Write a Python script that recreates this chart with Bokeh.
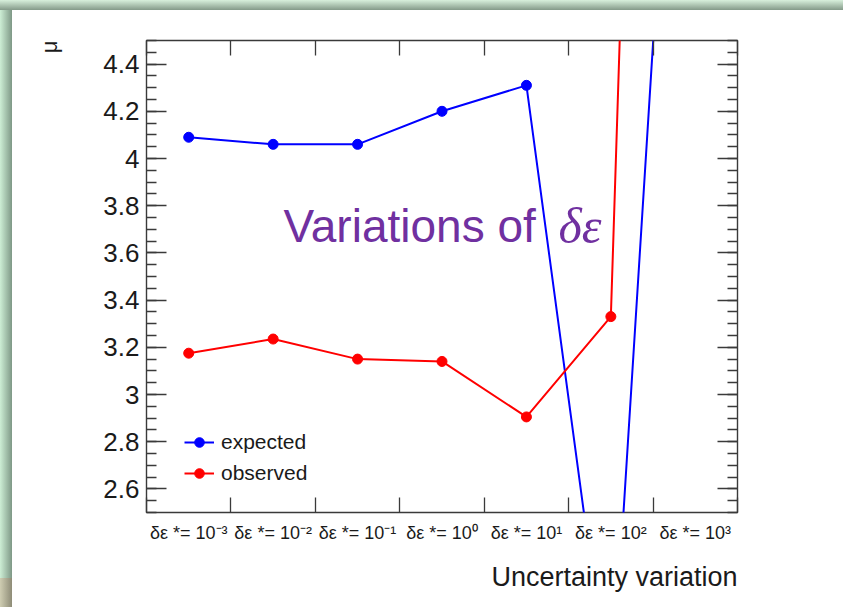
from bokeh.plotting import figure
from bokeh.models import (FixedTicker, NumeralTickFormatter, LinearAxis, Range1d, Label,
                          ColumnDataSource, Legend, LegendItem, Title)
from bokeh.embed import file_html
from bokeh.resources import INLINE

# Scan of the δε scaling factor, one bin per power of ten
tick_labels = ["δε *= 10⁻³", "δε *= 10⁻²", "δε *= 10⁻¹", "δε *= 10⁰",
               "δε *= 10¹", "δε *= 10²", "δε *= 10³"]
# Fitted signal strength mu for each scaling
expected = [4.09, 4.06, 4.06, 4.20, 4.31, 1.65, 7.33]
observed = [3.175, 3.235, 3.15, 3.14, 2.905, 3.33, 14.5]
# Axis ticks
y_ticks = [2.6, 2.8, 3.0, 3.2, 3.4, 3.6, 3.8, 4.0, 4.2, 4.4]
y_minor = [round(2.5 + 0.05 * i, 2) for i in range(41)]
x_edges = [0, 1, 2, 3, 4, 5, 6, 7]

W, H = 843, 607
L, R, T, B = 145, 106, 40, 95
AX = "#3a3a3a"
TXT = "#1a1a1a"
SANS = "Liberation Sans"
PURPLE = "#7030a0"

x = [i + 0.5 for i in range(len(tick_labels))]

p = figure(width=W, height=H, output_backend="svg", toolbar_location=None,
           x_range=Range1d(0, 7), y_range=Range1d(2.5, 4.5),
           min_border_left=L, min_border_right=R, min_border_top=T, min_border_bottom=B,
           x_axis_location=None, y_axis_location=None)
p.grid.visible = False
p.background_fill_color = "white"
p.border_fill_color = None
p.outline_line_color = AX
p.outline_line_width = 1.4
# slide frame: shaded strips along the top and left edges of the page
p.styles = {
    "background": (
        "linear-gradient(to bottom, #d8f0dc 0px, #849a89 10px, rgba(0,0,0,0) 10px), "
        "linear-gradient(to right, #cfcdb2 0px, #8e8c77 12px, rgba(0,0,0,0) 12px) 0 578px / 100% 29px no-repeat, "
        "linear-gradient(to right, #cdeed5 0px, #7e9886 12px, rgba(0,0,0,0) 12px), "
        "white"
    )
}


def tick_style(ax, major, minor):
    ax.axis_line_color = None
    ax.major_tick_in = major
    ax.major_tick_out = 0
    ax.minor_tick_in = minor
    ax.minor_tick_out = 0
    ax.major_tick_line_color = AX
    ax.minor_tick_line_color = AX
    ax.major_tick_line_width = 1.3
    ax.minor_tick_line_width = 1.3


# y axes: labelled on the left, mirrored ticks on the right
left = LinearAxis(ticker=FixedTicker(ticks=y_ticks, minor_ticks=y_minor),
                  formatter=NumeralTickFormatter(format="0.[0]"))
tick_style(left, 20, 10)
left.major_label_text_font = SANS
left.major_label_text_font_size = "26px"
left.major_label_text_color = TXT
left.major_label_standoff = 7
p.add_layout(left, "left")

right = LinearAxis(ticker=FixedTicker(ticks=y_ticks, minor_ticks=y_minor))
tick_style(right, 20, 10)
right.major_label_text_color = None
p.add_layout(right, "right")

# x axes: bin edges as (unlabelled) minor ticks, bin centres carry the labels
below = LinearAxis(ticker=FixedTicker(ticks=x, minor_ticks=x_edges),
                   major_label_overrides={xi: t for xi, t in zip(x, tick_labels)})
tick_style(below, 0, 15)
below.major_label_text_font = SANS
below.major_label_text_font_size = "18px"
below.major_label_text_color = TXT
below.major_label_standoff = 10
p.add_layout(below, "below")

above = LinearAxis(ticker=FixedTicker(ticks=[], minor_ticks=x_edges))
tick_style(above, 0, 15)
above.major_label_text_color = None
p.add_layout(above, "above")

# axis titles
p.add_layout(Title(text="Uncertainty variation", align="right", vertical_align="bottom",
                   standoff=29, text_font=SANS, text_font_size="27px",
                   text_font_style="normal", text_color=TXT), "below")
p.add_layout(Title(text="μ", align="right", vertical_align="top", standoff=73,
                   text_font=SANS, text_font_size="22px", text_font_style="normal",
                   text_color=TXT), "left")

src = ColumnDataSource(dict(x=x, expected=expected, observed=observed))
lb = p.line("x", "expected", source=src, line_color="#0000ff", line_width=2)
sb = p.scatter("x", "expected", source=src, size=10, color="#0000ff")
lr = p.line("x", "observed", source=src, line_color="#ff0000", line_width=2)
sr = p.scatter("x", "observed", source=src, size=10, color="#ff0000")

legend = Legend(items=[LegendItem(label="expected", renderers=[lb, sb]),
                       LegendItem(label="observed", renderers=[lr, sr])],
                location=(38, 27), orientation="vertical", padding=0, margin=0, spacing=7,
                glyph_width=30, glyph_height=24, label_height=24, label_standoff=7,
                label_text_font=SANS, label_text_font_size="21px", label_text_color=TXT,
                background_fill_alpha=0, border_line_color=None)
p.add_layout(legend)

# caption inside the frame
p.add_layout(Label(x=137, y=287, x_units="screen", y_units="screen", text="Variations of",
                   text_font=SANS, text_font_size="46px", text_color=PURPLE,
                   text_align="left", text_baseline="alphabetic"))
p.add_layout(Label(x=412, y=287, x_units="screen", y_units="screen", text="δε",
                   text_font="Liberation Serif", text_font_style="italic", text_font_size="50px",
                   text_color=PURPLE, text_align="left", text_baseline="alphabetic"))

open("out.html", "w").write(file_html(p, INLINE))
